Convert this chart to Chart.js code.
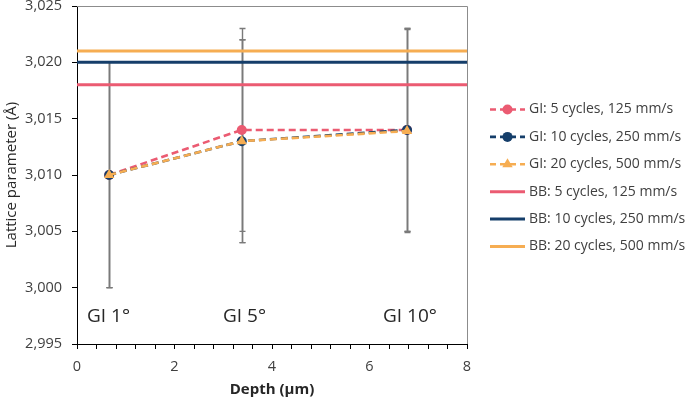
<!DOCTYPE html>
<html><head><meta charset="utf-8">
<script src="https://cdn.jsdelivr.net/npm/chart.js@4"></script>
<style>html,body{margin:0;padding:0;background:#fff}</style>
</head><body><canvas id="c" width="685" height="400"></canvas>
<script>
const depth = [0.66, 3.38, 6.77];
const gi5 = [3.010, 3.014, 3.014];
const gi10 = [3.010, 3.013, 3.014];
const gi20 = [3.010, 3.013, 3.0139];
const gi5Err = [0.010, 0.009, 0.009];
const gi10Err = [0.010, 0.009, 0.009];
const gi20Err = [0.010, 0.009, 0.009];
const bbRange = [0, 8];
const bb5 = 3.018, bb10 = 3.020, bb20 = 3.021;
const seriesNames = ['GI: 5 cycles, 125 mm/s','GI: 10 cycles, 250 mm/s','GI: 20 cycles, 500 mm/s','BB: 5 cycles, 125 mm/s','BB: 10 cycles, 250 mm/s','BB: 20 cycles, 500 mm/s'];
const yTickLabels = ['2,995','3,000','3,005','3,010','3,015','3,020','3,025'];
const xTickLabels = ['0','2','4','6','8'];
const angleLabels = ['GI 1°','GI 5°','GI 10°'];
const angleAt = [0.205, 2.995, 6.277];
const angleY = 2.99741;

const PINK = '#EB5B72', NAVY = '#153E6A', ORANGE = '#F6AD52';
const FONT = "'Open Sans', sans-serif";

const pts = (ys) => depth.map((d, i) => ({x: d, y: ys[i]}));
const hline = (v) => bbRange.map(x => ({x, y: v}));

const giDs = (label, ys, err, color, style, order, r) => ({
  label, data: pts(ys), err, borderColor: color, backgroundColor: color,
  borderWidth: 2.6, borderDash: [7, 4], pointStyle: style, pointRadius: r,
  pointBorderWidth: 0, pointBackgroundColor: color, showLine: true, order
});
const bbDs = (label, v, color) => ({
  label, data: hline(v), borderColor: color, backgroundColor: color,
  borderWidth: 3, pointRadius: 0, showLine: true, order: 10
});

const errPlugin = {
  id: 'errbars',
  beforeDatasetsDraw(chart) {
    const {ctx, scales: {x, y}} = chart;
    ctx.save();
    ctx.strokeStyle = '#7a7a7a';
    ctx.lineWidth = 1.4;
    chart.data.datasets.forEach(ds => {
      if (!ds.err) return;
      ds.data.forEach((p, i) => {
        const px = Math.round(x.getPixelForValue(p.x)) + 0.5;
        const lo = y.getPixelForValue(p.y - ds.err[i]);
        const hi = y.getPixelForValue(p.y + ds.err[i]);
        ctx.beginPath();
        ctx.moveTo(px, lo); ctx.lineTo(px, hi);
        ctx.moveTo(px - 3, lo); ctx.lineTo(px + 3, lo);
        ctx.moveTo(px - 3, hi); ctx.lineTo(px + 3, hi);
        ctx.stroke();
      });
    });
    ctx.restore();
  }
};

const decoPlugin = {
  id: 'deco',
  afterDraw(chart) {
    const {ctx, chartArea: a, scales: {x, y}} = chart;
    ctx.save();
    ctx.strokeStyle = '#8c8c8c'; ctx.lineWidth = 1;
    ctx.beginPath();
    ctx.moveTo(Math.round(a.left), Math.round(a.top) + 0.5);
    ctx.lineTo(Math.round(a.right) + 0.5, Math.round(a.top) + 0.5);
    ctx.lineTo(Math.round(a.right) + 0.5, Math.round(a.bottom));
    ctx.stroke();
    ctx.fillStyle = '#262626';
    ctx.font = "19px " + FONT;
    ctx.textAlign = 'left'; ctx.textBaseline = 'middle';
    angleLabels.forEach((t, i) => ctx.fillText(t, x.getPixelForValue(angleAt[i]), y.getPixelForValue(angleY)));
    const L0 = 490, L1 = 525, TX = 529, Y0 = 109.5, DY = 27.4;
    chart.data.datasets.forEach((ds, i) => {
      const yy = Y0 + DY * i;
      ctx.save();
      ctx.strokeStyle = ds.borderColor;
      ctx.lineWidth = ds.err ? 2.6 : 3;
      ctx.setLineDash(ds.err ? [6, 4] : []);
      ctx.beginPath(); ctx.moveTo(L0, yy); ctx.lineTo(L1, yy); ctx.stroke();
      ctx.restore();
      if (ds.err) {
        const cx = (L0 + L1) / 2;
        ctx.fillStyle = ds.borderColor;
        Chart.helpers.drawPoint(ctx, {pointStyle: ds.pointStyle, radius: ds.pointRadius, borderWidth: 0, rotation: 0}, cx, yy);
      }
      ctx.fillStyle = '#404040';
      ctx.font = "14px " + FONT;
      ctx.textAlign = 'left'; ctx.textBaseline = 'middle';
      ctx.fillText(seriesNames[i], TX, yy);
    });
    ctx.restore();
  }
};

new Chart(document.getElementById('c'), {
  type: 'scatter',
  data: {
    datasets: [
      giDs(seriesNames[0], gi5, gi5Err, PINK, 'circle', 3, 5),
      giDs(seriesNames[1], gi10, gi10Err, NAVY, 'circle', 2, 5),
      giDs(seriesNames[2], gi20, gi20Err, ORANGE, 'triangle', 1, 6),
      bbDs(seriesNames[3], bb5, PINK),
      bbDs(seriesNames[4], bb10, NAVY),
      bbDs(seriesNames[5], bb20, ORANGE)
    ]
  },
  options: {
    responsive: false, animation: false, devicePixelRatio: 1,
    layout: {padding: {left: 0, right: 218, top: 6, bottom: 0}},
    plugins: {legend: {display: false}, tooltip: {enabled: false}},
    scales: {
      x: {
        type: 'linear', min: 0, max: 8,
        ticks: {
          stepSize: 0.4, autoSkip: false, maxRotation: 0, padding: 9,
          color: '#404040', font: {family: FONT, size: 14.5},
          callback: (v) => { const k = v / 2; return Math.abs(k - Math.round(k)) < 1e-6 ? xTickLabels[Math.round(k)] : ''; }
        },
        grid: {drawOnChartArea: false, tickLength: 5, tickColor: '#000'},
        border: {color: '#000', width: 1},
        title: {display: true, text: 'Depth (µm)', color: '#262626', font: {family: FONT, size: 15, weight: 'bold'}, padding: {top: 0, bottom: 1}},
        afterFit(s) { s.height = 56; s.paddingLeft = 0; s.paddingRight = 0; }
      },
      y: {
        min: 2.995, max: 3.025,
        ticks: {
          stepSize: 0.005, padding: 10, color: '#404040', font: {family: FONT, size: 14.5},
          callback: (v, i) => yTickLabels[i]
        },
        grid: {drawOnChartArea: false, tickLength: 5, tickColor: '#000'},
        border: {color: '#000', width: 1},
        title: {display: true, text: 'Lattice parameter (Å)', color: '#262626', font: {family: FONT, size: 15}, padding: {top: 3, bottom: 0}},
        afterFit(s) { s.width = 77; s.paddingTop = 0; s.paddingBottom = 0; }
      }
    }
  },
  plugins: [errPlugin, decoPlugin]
});
</script></body></html>
